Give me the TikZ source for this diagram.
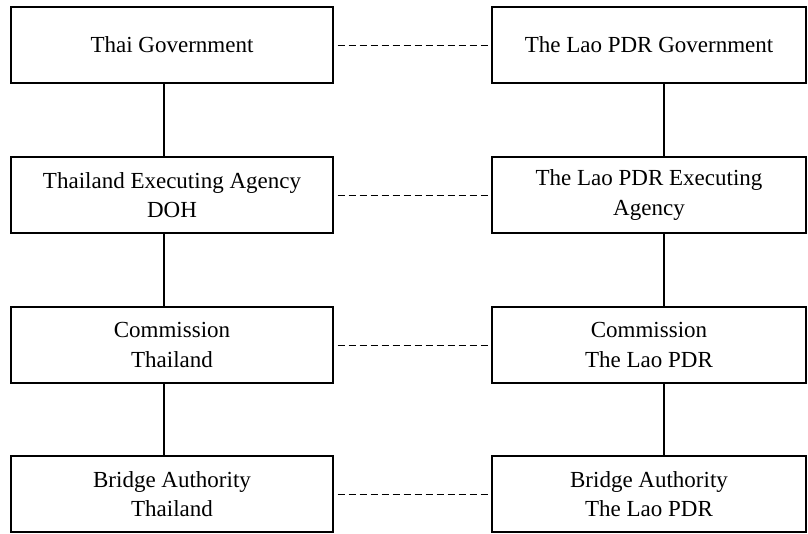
\documentclass[tikz,border=0pt]{standalone}
\usepackage{fontspec}
\setmainfont{Liberation Serif}
\begin{document}
\begin{tikzpicture}[x=1pt,y=-1pt,
  unit/.style={draw, line width=1.3pt, rectangle, minimum height=76pt,
    align=center, inner sep=0pt, font=\fontsize{23}{29.5}\selectfont},
  leftunit/.style={unit, minimum width=322pt},
  rightunit/.style={unit, minimum width=314pt},
  chain/.style={line width=1.1pt},
  link/.style={line width=0.9pt, dash pattern=on 7pt off 4pt,
    shorten <=4pt, shorten >=3pt}]
\useasboundingbox (0,0) rectangle (808,534);

% Thai side
\node[leftunit] (tgov) at (172,45)  {Thai Government};
\node[leftunit] (texe) at (172,195) {Thailand Executing Agency\\DOH};
\node[leftunit] (tcom) at (172,345) {Commission\\Thailand};
\node[leftunit] (tbri) at (172,494) {Bridge Authority\\Thailand};

% Lao side
\node[rightunit] (lgov) at (649,45)  {The Lao PDR Government};
\node[rightunit] (lexe) at (649,195) {The Lao PDR Executing\\Agency};
\node[rightunit] (lcom) at (649,345) {Commission\\The Lao PDR};
\node[rightunit] (lbri) at (649,494) {Bridge Authority\\The Lao PDR};

% vertical chains of command
\foreach \a/\b in {tgov/texe, texe/tcom, tcom/tbri}
  \draw[chain] ([xshift=-8pt]\a.south) -- ([xshift=-8pt]\b.north);
\foreach \a/\b in {lgov/lexe, lexe/lcom, lcom/lbri}
  \draw[chain] ([xshift=15pt]\a.south) -- ([xshift=15pt]\b.north);

% cross-border counterparts
\foreach \a/\b in {tgov/lgov, texe/lexe, tcom/lcom, tbri/lbri}
  \draw[link] (\a.east) -- (\b.west);
\end{tikzpicture}
\end{document}
